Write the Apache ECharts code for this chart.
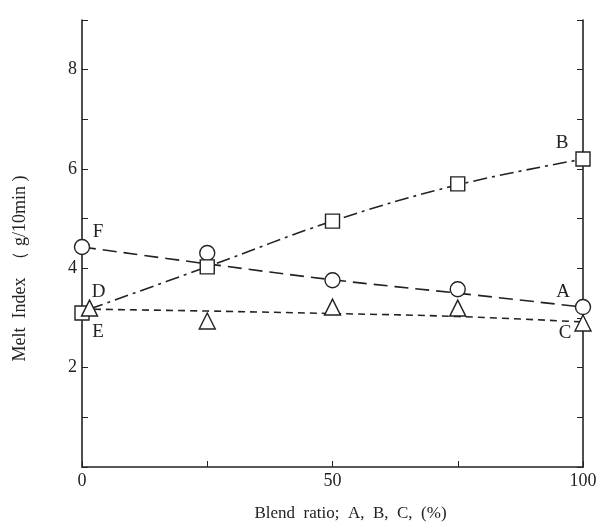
<!DOCTYPE html>
<html>
<head>
<meta charset="utf-8">
<script src="https://cdn.jsdelivr.net/npm/echarts@6/dist/echarts.min.js"></script>
<style>html,body{margin:0;padding:0;background:#fff}#c{width:601px;height:528px}</style>
</head>
<body>
<div id="c"></div>
<script>
// Measured points
const xValues = [0, 25, 50, 75, 100];
const circleY = [4.43, 4.31, 3.76, 3.58, 3.22];   // A / F
const squareY = [3.10, 4.03, 4.95, 5.70, 6.20];   // B / E
const triX = [1.5, 25, 50, 75, 100];
const triY = [3.20, 2.94, 3.22, 3.20, 2.90];      // C / D
// Drawn curves
const circleFit = [4.43, 4.09, 3.77, 3.50, 3.22];
const squareFitX = [1.5, 25, 50, 75, 100];
const squareFit = [3.18, 4.03, 4.95, 5.68, 6.20];
const triFit = [3.18, 3.14, 3.09, 3.03, 2.92];
// Labels
const circleLabels = ['F', '', '', '', 'A'];
const squareLabels = ['E', '', '', '', 'B'];
const triLabels = ['D', '', '', '', 'C'];
const yTickLabels = ['', '', '2', '', '4', '', '6', '', '8', ''];
const xTickLabels = {0: '0', 50: '50', 100: '100'};

const font = '"Liberation Serif", "DejaVu Serif", serif';
const ink = '#222';

const labelOffsets = {
  F: [16, -15], A: [-20, -15], B: [-21, -16], E: [16, 19], D: [9, -16], C: [-18, 10]
};
function pts(xs, ys, labels) {
  return xs.map((x, i) => {
    const item = { value: [x, ys[i]] };
    const l = labels ? labels[i] : '';
    if (l) {
      item.label = {
        show: true, formatter: l, position: 'inside', offset: labelOffsets[l],
        fontFamily: font, fontSize: 19, color: ink
      };
    }
    return item;
  });
}
function line(xs, ys, dash) {
  return {
    type: 'line', data: xs.map((x, i) => [x, ys[i]]), smooth: 0.4, symbol: 'none',
    lineStyle: { color: ink, width: 1.6, type: dash }, z: 2, silent: true
  };
}
function markers(xs, ys, labels, symbol, size) {
  return {
    type: 'scatter', data: pts(xs, ys, labels), symbol: symbol, symbolSize: size,
    itemStyle: { color: '#fff', borderColor: ink, borderWidth: 1.4, opacity: 1 },
    z: 5, silent: true
  };
}

const chart = echarts.init(document.getElementById('c'));
chart.setOption({
  animation: false,
  backgroundColor: '#fff',
  grid: { left: 82, right: 18, top: 20, bottom: 61, containLabel: false },
  xAxis: {
    type: 'value', min: 0, max: 100, interval: 25,
    axisLine: { show: true, lineStyle: { color: ink, width: 1.6 } },
    axisTick: { show: true, inside: true, length: 6, lineStyle: { color: ink } },
    splitLine: { show: false },
    axisLabel: { formatter: v => xTickLabels[v] || '', fontFamily: font, fontSize: 18, color: ink, margin: 5 },
    name: 'Blend  ratio;  A,  B,  C,  (%)', nameLocation: 'middle', nameGap: 38,
    nameTextStyle: { fontFamily: font, fontSize: 17, color: ink, padding: [0, 0, 0, 36] }
  },
  yAxis: [{
    type: 'value', min: 0, max: 9, interval: 1, position: 'left',
    axisLine: { show: true, lineStyle: { color: ink, width: 1.6 } },
    axisTick: { show: true, inside: true, length: 6, lineStyle: { color: ink } },
    splitLine: { show: false },
    axisLabel: { formatter: v => yTickLabels[Math.round(v)] || '', fontFamily: font, fontSize: 18, color: ink, margin: 5 },
    name: 'Melt  Index  （ g/10min )', nameLocation: 'middle', nameGap: 53, nameRotate: 90,
    nameTextStyle: { fontFamily: font, fontSize: 18, color: ink, padding: [0, 50, 0, 0] }
  }, {
    type: 'value', min: 0, max: 9, interval: 1, position: 'right',
    axisLine: { show: true, onZero: false, lineStyle: { color: ink, width: 1.6 } },
    axisTick: { show: true, inside: true, length: 6, lineStyle: { color: ink } },
    splitLine: { show: false },
    axisLabel: { show: false }
  }],
  series: [
    line(xValues, circleFit, [14, 7]),
    line(squareFitX, squareFit, [14, 5, 3, 5]),
    line(xValues, triFit, [7, 5]),
    markers(xValues, circleY, circleLabels, 'circle', 15),
    markers(xValues, squareY, squareLabels, 'rect', 14),
    markers(triX, triY, triLabels, 'triangle', 16)
  ]
});
</script>
</body>
</html>
